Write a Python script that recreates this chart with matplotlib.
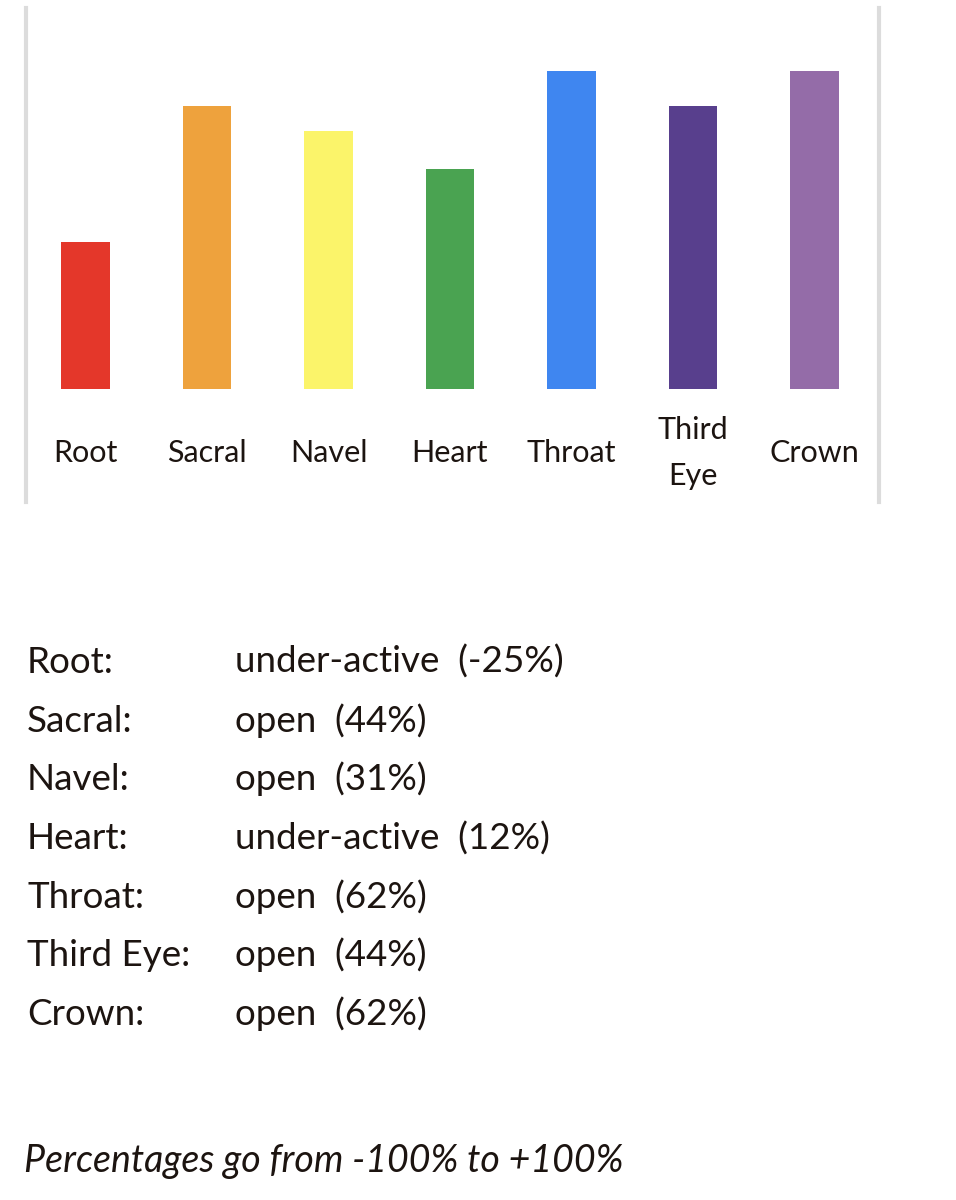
import matplotlib
matplotlib.use("Agg")
import matplotlib.pyplot as plt
from matplotlib.lines import Line2D

categories = ["Root", "Sacral", "Navel", "Heart", "Throat", "Third Eye", "Crown"]
tick_labels = ["Root", "Sacral", "Navel", "Heart", "Throat", "Third\nEye", "Crown"]
values = [-25, 44, 31, 12, 62, 44, 62]
statuses = ["under-active", "open", "open", "under-active", "open", "open", "open"]
colors = ["#e4372a", "#eea23d", "#fbf46a", "#4aa351", "#3f86f0", "#583f8d", "#946ca8"]

W, H = 956, 1200
DPI = 100
FONT = ["Lato", "DejaVu Sans"]
TXT = "#1c1410"

fig = plt.figure(figsize=(W / DPI, H / DPI), dpi=DPI)
fig.patch.set_facecolor("white")

def fx(px):
    return px / W

def fy(py):
    return 1 - py / H

# axes: x 25..876 px, y 8..389 px (baseline = -100)
ax_left, ax_right = 25, 875
ax_top, ax_bottom = 8, 389
ax = fig.add_axes([fx(ax_left), fy(ax_bottom), fx(ax_right - ax_left), (ax_bottom - ax_top) / H])
px_per_pct = 1.966
ymin = -100
ymax = ymin + (ax_bottom - ax_top) / px_per_pct
x = list(range(len(categories)))
heights = [v - ymin for v in values]
ax.bar(x, heights, bottom=ymin, width=0.4, color=colors)
ax.set_xlim(-0.5, len(categories) - 0.5)
ax.set_ylim(ymin, ymax)
ax.axis("off")

# category labels below the bars
for i, lab in enumerate(tick_labels):
    ax.annotate(lab, xy=(i, ymin), xycoords="data", xytext=(0, -64),
                textcoords="offset pixels", ha="center", va="center",
                fontsize=22, family=FONT, color=TXT, linespacing=1.75)

# grey frame lines
for xp in (26, 879):
    fig.add_artist(Line2D([fx(xp), fx(xp)], [fy(8), fy(502)], color="#dcdcdc", lw=3))

# lower listing
base0 = 673
step = 58.7
for i, (c, s, v) in enumerate(zip(categories, statuses, values)):
    yb = base0 + i * step
    fig.text(fx(27), fy(yb), f"{c}:", ha="left", va="baseline", fontsize=26.5, family=FONT, color=TXT)
    fig.text(fx(235), fy(yb), f"{s}  ({v}%)", ha="left", va="baseline", fontsize=26.5, family=FONT, color=TXT)

fig.text(fx(24), fy(1172), "Percentages go from -100% to +100%", ha="left", va="baseline",
         fontsize=27, family=FONT, style="italic", color=TXT)

fig.savefig("out.png", dpi=DPI, facecolor="white")
